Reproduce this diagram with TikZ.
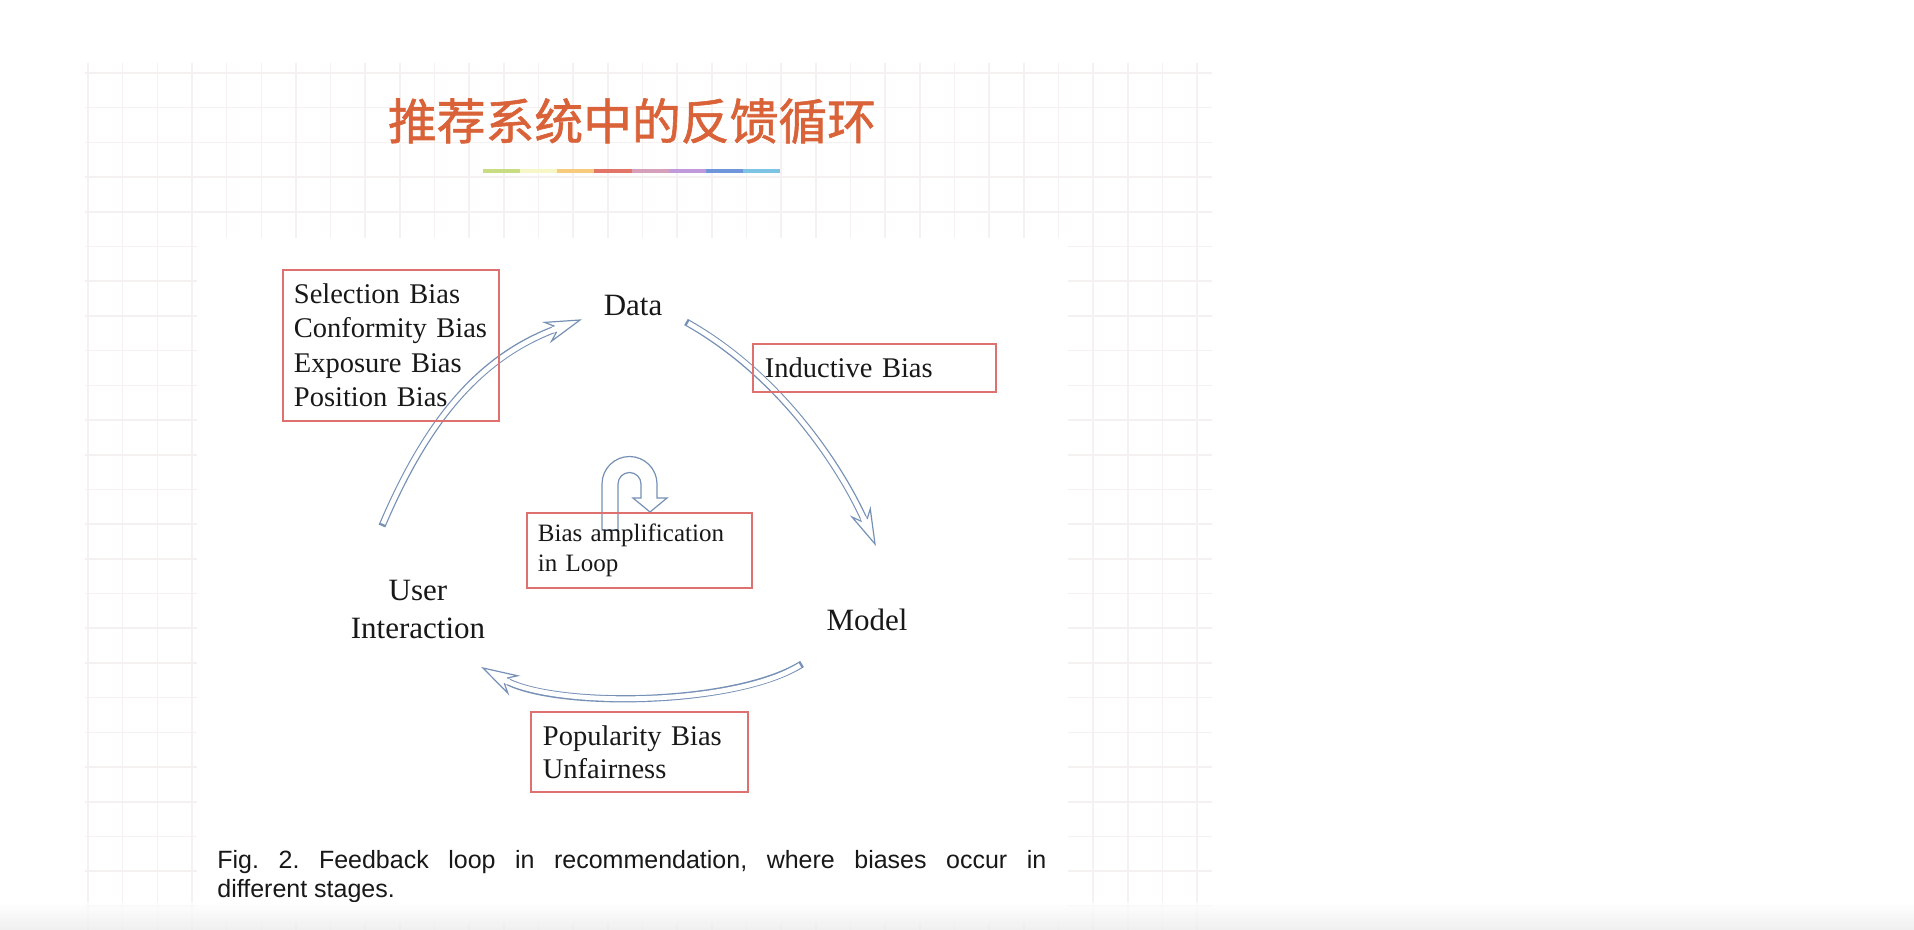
\documentclass[tikz,border=0pt]{standalone}
\usepackage{fontspec}
\setmainfont{Liberation Serif}
\newfontfamily\capfont{Liberation Sans}
\newfontfamily\cjkfont{Noto Sans CJK SC}[FakeBold=1.2]
\usetikzlibrary{decorations.markings}
\definecolor{gridc}{RGB}{246,241,241}
\definecolor{titlec}{RGB}{218,98,56}
\definecolor{boxc}{RGB}{222,112,112}
\definecolor{arrowc}{RGB}{118,144,182}
\definecolor{txtc}{RGB}{24,24,24}
\definecolor{rbA}{RGB}{200,220,130}
\definecolor{rbB}{RGB}{246,246,198}
\definecolor{rbC}{RGB}{248,203,124}
\definecolor{rbD}{RGB}{226,116,104}
\definecolor{rbE}{RGB}{214,160,186}
\definecolor{rbF}{RGB}{192,154,219}
\definecolor{rbG}{RGB}{111,149,219}
\definecolor{rbH}{RGB}{125,195,227}
\tikzset{
  gridline/.style={draw=gridc, line width=0.8pt},
  redbox/.style={draw=boxc, line width=0.9pt, inner ysep=0pt, align=left, text=txtc, anchor=north west},
  boxtext/.style={font=\fontsize{14.25}{17.25}\selectfont},
  biglabel/.style={text=txtc, font=\fontsize{15.5}{19}\selectfont, inner sep=0pt, align=center},
  captext/.style={text=txtc, font=\capfont\fontsize{12.5}{14.5}\selectfont, inner sep=0pt, anchor=west},
  arrbody/.style={draw=arrowc, line width=3.6pt},
  arrinner/.style={draw=white, line width=2.4pt},
  headmark/.style={decorate, decoration={markings, mark=at position 1 with {
     \fill[white] (0pt,0pt) -- (-17pt,5pt) -- (-13pt,1.5pt) -- (-14.5pt,1.5pt) -- (-14.5pt,-1.5pt) -- (-13pt,-1.5pt) -- (-17pt,-5pt) -- cycle;
     \draw[arrowc, line width=0.6pt, line join=miter] (-13pt,1.5pt) -- (-17pt,5pt) -- (0pt,0pt) -- (-17pt,-5pt) -- (-13pt,-1.5pt);}}},
  rainbow/.style={line width=2pt},
}
\begin{document}
\begin{tikzpicture}[x=0.5pt,y=-0.5pt]
\useasboundingbox (0,0) rectangle (1914,930);
\fill[white] (0,0) rectangle (1914,930);
% grid panel
\foreach \i in {0,...,32} \draw[gridline] ({88+34.66*\i},63) -- ({88+34.66*\i},930);
\foreach \j in {0,...,24} \draw[gridline] (85,{73+34.7*\j}) -- (1212,{73+34.7*\j});
\fill[white] (197,238) rectangle (1068,922);
% title
\node[text=titlec, font=\cjkfont\fontsize{24.4}{28}\selectfont, inner sep=0pt] (title) at (632,121) {推荐系统中的反馈循环};
% rainbow rule
\draw[rainbow, rbA] (483,171) -- (520.1,171);
\draw[rainbow, rbB] (520.1,171) -- (557.2,171);
\draw[rainbow, rbC] (557.2,171) -- (594.4,171);
\draw[rainbow, rbD] (594.4,171) -- (631.5,171);
\draw[rainbow, rbE] (631.5,171) -- (668.6,171);
\draw[rainbow, rbF] (668.6,171) -- (705.8,171);
\draw[rainbow, rbG] (705.8,171) -- (742.9,171);
\draw[rainbow, rbH] (742.9,171) -- (780,171);
% arrow end points
\coordinate (uTail) at (382,526);
\coordinate (dHead) at (580,320);
\coordinate (dTail) at (686,322);
\coordinate (mHead) at (875,544);
\coordinate (mTail) at (802,664);
\coordinate (uHead) at (483,668);
% User -> Data
\draw[arrbody, shorten >=13pt] (uTail) .. controls (425,425) and (477,358) .. (dHead);
\draw[arrinner, shorten >=12pt, shorten <=1.2pt] (uTail) .. controls (425,425) and (477,358) .. (dHead);
\path[headmark] (uTail) .. controls (425,425) and (477,358) .. (dHead);
% Data -> Model
\draw[arrbody, shorten >=13pt] (dTail) .. controls (782,376) and (842,470) .. (mHead);
\draw[arrinner, shorten >=12pt, shorten <=1.2pt] (dTail) .. controls (782,376) and (842,470) .. (mHead);
\path[headmark] (dTail) .. controls (782,376) and (842,470) .. (mHead);
% Model -> User
\draw[arrbody, shorten >=13pt] (mTail) .. controls (735,706) and (555,708) .. (uHead);
\draw[arrinner, shorten >=12pt, shorten <=1.2pt] (mTail) .. controls (735,706) and (555,708) .. (uHead);
\path[headmark] (mTail) .. controls (735,706) and (555,708) .. (uHead);
% U-turn arrow
\draw[arrowc, line width=0.6pt, fill=white, line join=miter] (602,530) -- (602,484) arc[start angle=180, end angle=0, radius=13.75pt] -- (657,498) -- (667,498) -- (650,512) -- (633,498) -- (641,498) -- (641,484) arc[start angle=0, end angle=180, radius=5.75pt] -- (618,530) -- cycle;
% bias boxes
\node[redbox, boxtext, minimum width=108pt, minimum height=75.5pt, text width=97pt, inner xsep=5.5pt] (selbox) at (282,269) {Selection Bias\\Conformity Bias\\Exposure Bias\\Position Bias};
\node[redbox, boxtext, minimum width=121.5pt, minimum height=24pt, text width=109.5pt, inner xsep=6pt] (indbox) at (752,343) {Inductive Bias};
\node[redbox, font=\fontsize{12.5}{15}\selectfont, minimum width=112.5pt, minimum height=37.5pt, text width=101.5pt, inner xsep=5.5pt] (ampbox) at (526,512) {Bias amplification\\in Loop};
\node[redbox, font=\fontsize{14.25}{16.5}\selectfont, minimum width=108.5pt, minimum height=40pt, text width=96.5pt, inner xsep=6pt] (popbox) at (530,711) {Popularity Bias\\Unfairness};
% stage labels
\node[biglabel] (data) at (633,306) {Data};
\node[biglabel] (user) at (418,609) {User\\Interaction};
\node[biglabel] (model) at (867,620) {Model};
% caption
\node[captext] (cap1) at (217,862) {\frenchspacing\makebox[414.5pt][s]{Fig. 2. Feedback loop in recommendation, where biases occur in}};
\node[captext] (cap2) at (217,891) {different stages.};
% bottom shade
\shade[top color=white, bottom color={rgb,255:red,236;green,236;blue,236}, opacity=0.8] (0,902) rectangle (1914,930);
\end{tikzpicture}
\end{document}
